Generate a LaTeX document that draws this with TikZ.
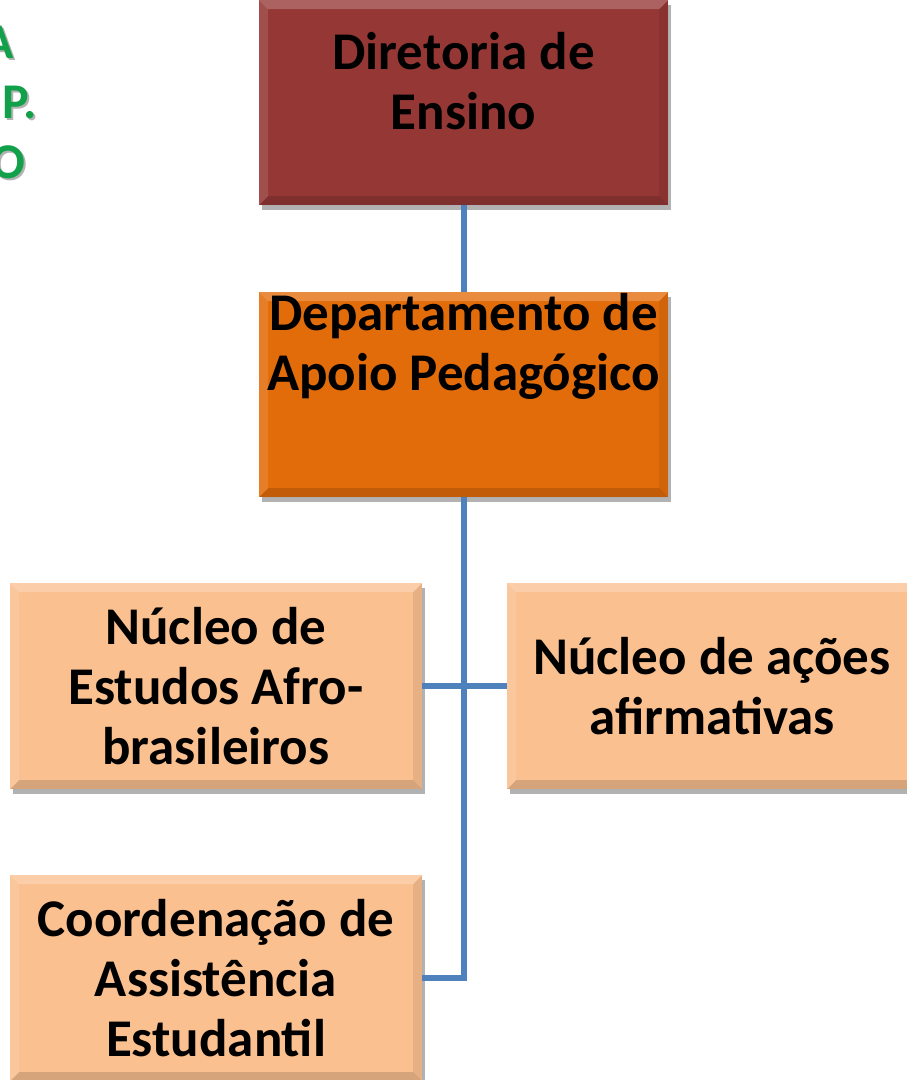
\documentclass[tikz,border=0pt]{standalone}
\usepackage{fontspec}
\setmainfont{Carlito}
\usetikzlibrary{shadows}
\definecolor{dred}{HTML}{953735}
\definecolor{orng}{HTML}{E36C0A}
\definecolor{peach}{HTML}{FAC090}
\definecolor{conncol}{HTML}{4F81BD}
\definecolor{grn}{HTML}{12A04A}
\tikzset{
  box/.style={rectangle, draw=none, anchor=north west, minimum width=412pt, minimum height=206pt, inner sep=0pt,
    drop shadow={shadow xshift=3pt, shadow yshift=-5pt, opacity=0.3, fill=black},
    path picture={
      \fill[white,opacity=0.22] (path picture bounding box.north west) -- (path picture bounding box.north east) -- ([xshift=-9pt,yshift=-9pt]path picture bounding box.north east) -- ([xshift=9pt,yshift=-9pt]path picture bounding box.north west) -- cycle;
      \fill[white,opacity=0.12] (path picture bounding box.north west) -- ([xshift=9pt,yshift=-9pt]path picture bounding box.north west) -- ([xshift=9pt,yshift=9pt]path picture bounding box.south west) -- (path picture bounding box.south west) -- cycle;
      \fill[black,opacity=0.14] (path picture bounding box.south west) -- ([xshift=9pt,yshift=9pt]path picture bounding box.south west) -- ([xshift=-9pt,yshift=9pt]path picture bounding box.south east) -- (path picture bounding box.south east) -- cycle;
      \fill[black,opacity=0.08] (path picture bounding box.north east) -- ([xshift=-9pt,yshift=-9pt]path picture bounding box.north east) -- ([xshift=-9pt,yshift=9pt]path picture bounding box.south east) -- (path picture bounding box.south east) -- cycle;
    }},
  lbl/.style={align=center, inner sep=0pt, font=\fontsize{53}{60}\selectfont\bfseries, text=black},
  conn/.style={draw=conncol, line width=6pt},
  greentxt/.style={anchor=north east, inner sep=0pt, font=\fontsize{50}{56}\selectfont\bfseries, text=grn},
  greenshadow/.style={anchor=north east, inner sep=0pt, font=\fontsize{50}{56}\selectfont\bfseries, text=black, opacity=0.3}
}
\begin{document}
\begin{tikzpicture}[x=1pt,y=-1pt]
\useasboundingbox (0,0) rectangle (906,1080);
% partially visible green text at left edge
\node[greenshadow] (gAs) at (16,28) {A};
\node[greentxt] (gA) at (14,26) {A};
\node[greenshadow] (gPs) at (39,88) {P.};
\node[greentxt] (gP) at (37,86) {P.};
\node[greenshadow] (gOs) at (28,148) {O};
\node[greentxt] (gO) at (26,146) {O};
% boxes
\node[box, fill=dred, minimum width=409pt, minimum height=205pt] (dir) at (259,0) {};
\node[box, fill=orng, minimum width=409pt, minimum height=205pt] (dep) at (259,292) {};
\node[box, fill=peach] (nea) at (10,583) {};
\node[box, fill=peach] (naa) at (507,583) {};
\node[box, fill=peach] (cae) at (10,875) {};
% connectors
\draw[conn] (dir.south) -- (dep.north);
\draw[conn] (dep.south) -- (dep.south |- cae.east) -- (cae.east);
\draw[conn] (nea.east) -- (naa.west);
% labels
\node[lbl] (tdir) at (463.5,81) {Diretoria de\\Ensino};
\node[lbl] (tdep) at (463.5,346) {Departamento de\\Apoio Pedagógico};
\node[lbl] (tnea) at (216,686) {Núcleo de\\Estudos Afro-\\brasileiros};
\node[lbl] (tnaa) at (712,686) {Núcleo de ações\\afirmativas};
\node[lbl] (tcae) at (216,978) {Coordenação de\\Assistência\\Estudantil};
\end{tikzpicture}
\end{document}
